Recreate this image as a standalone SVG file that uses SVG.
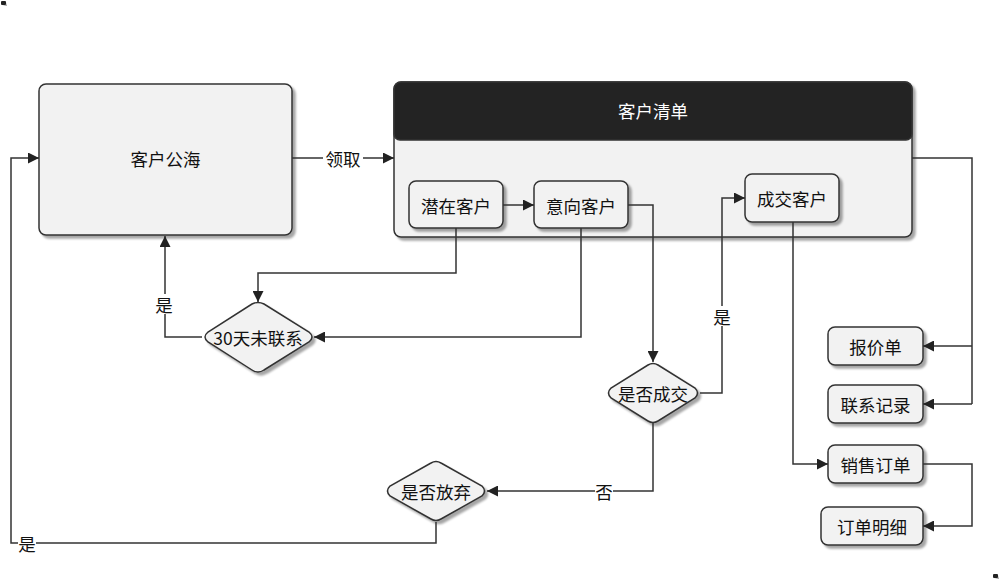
<svg xmlns="http://www.w3.org/2000/svg" width="1002" height="581" viewBox="0 0 1002 581">
<defs>
<filter id="sh" x="-10%" y="-10%" width="130%" height="130%">
<feDropShadow dx="3" dy="3" stdDeviation="0.8" flood-color="#000" flood-opacity="0.35"/>
</filter>
<marker id="ah" viewBox="0 0 10 10" refX="10" refY="5" markerWidth="11" markerHeight="11" markerUnits="userSpaceOnUse" orient="auto">
<path d="M0,0 L10,5 L0,10 z" fill="#222"/>
</marker>
</defs>
<style>
.box{fill:#f2f2f2;stroke:#333;stroke-width:1.5;filter:url(#sh)}
.t{font-family:"Noto Sans CJK SC","Liberation Sans",sans-serif;font-size:17.5px;fill:#111;text-anchor:middle;dominant-baseline:central}
.w{fill:#fff}
.c{fill:none;stroke:#333;stroke-width:1.5}
.a{marker-end:url(#ah)}
.lb{fill:#fff}
</style>
<rect width="1002" height="581" fill="#fff"/>

<g id="corner-tl"><rect x="1" y="1" width="5" height="4" rx="1" fill="#222" filter="url(#sh)"/></g>
<g id="corner-br"><rect x="993" y="574" width="5" height="4" rx="1" fill="#222" filter="url(#sh)"/></g>

<g id="gonghai">
<rect class="box" x="39" y="84" width="253" height="151" rx="7"/>
<text class="t" x="165.5" y="158">客户公海</text>
</g>

<g id="qingdan">
<rect class="box" x="394" y="82" width="518" height="155" rx="7"/>
<path d="M394,134 V89 a7,7 0 0 1 7,-7 H905 a7,7 0 0 1 7,7 V134 a6,6 0 0 1 -6,6 H400 a6,6 0 0 1 -6,-6 z" fill="#232323" stroke="#333" stroke-width="1.5"/>
<text class="t w" x="653" y="110">客户清单</text>
</g>

<g id="qianzai">
<rect class="box" x="409" y="181" width="94" height="47" rx="7"/>
<text class="t" x="456" y="205">潜在客户</text>
</g>
<g id="yixiang">
<rect class="box" x="534" y="181" width="94" height="47" rx="7"/>
<text class="t" x="581" y="205">意向客户</text>
</g>
<g id="chengjiao">
<rect class="box" x="745" y="174" width="94" height="48" rx="7"/>
<text class="t" x="792" y="198">成交客户</text>
</g>

<g id="d30">
<path class="box" d="M252,304 Q258,301 264,304 L309,332 Q315,337 309,342 L264,370 Q258,374 252,370 L208,342 Q202,337 208,332 z"/>
<text class="t" x="258" y="337">30天未联系</text>
</g>
<g id="dchengjiao">
<path class="box" d="M648,365 Q653,362 658,365 L695,388 Q700,393 695,398 L658,421 Q653,424 648,421 L611,398 Q606,393 611,388 z"/>
<text class="t" x="653" y="393">是否成交</text>
</g>
<g id="dfangqi">
<path class="box" d="M431,463 Q436,460 441,463 L482,486 Q487,491 482,496 L441,519 Q436,522 431,519 L390,496 Q385,491 390,486 z"/>
<text class="t" x="436" y="491">是否放弃</text>
</g>

<g id="baojia">
<rect class="box" x="828" y="327" width="95" height="38" rx="7"/>
<text class="t" x="875.5" y="346">报价单</text>
</g>
<g id="lianxi">
<rect class="box" x="828" y="385" width="95" height="38" rx="7"/>
<text class="t" x="875.5" y="404">联系记录</text>
</g>
<g id="xiaoshou">
<rect class="box" x="828" y="445" width="95" height="38" rx="7"/>
<text class="t" x="875.5" y="464">销售订单</text>
</g>
<g id="mingxi">
<rect class="box" x="821" y="507" width="102" height="38" rx="7"/>
<text class="t" x="872" y="526">订单明细</text>
</g>

<g id="connectors">
<path class="c a" d="M292,158 H394"/>
<rect class="lb" x="323" y="148" width="40" height="20"/>
<text class="t" x="343" y="158">领取</text>

<path class="c a" d="M503,205 H534"/>
<path class="c a" d="M628,205 H653 V362"/>
<path class="c a" d="M700,393 H722 V198 H745"/>
<rect class="lb" x="713" y="306" width="18" height="20"/>
<text class="t" x="722" y="316">是</text>

<path class="c a" d="M653,423 V491 H487"/>
<rect class="lb" x="595" y="481" width="18" height="20"/>
<text class="t" x="604" y="491">否</text>

<path class="c a" d="M436,522 V543 H11 V158 H39"/>
<rect class="lb" x="18" y="533" width="18" height="20"/>
<text class="t" x="27" y="543">是</text>

<path class="c a" d="M456,228 V273 H258 V302"/>
<path class="c a" d="M581,228 V337 H314"/>
<path class="c a" d="M202,337 H165 V236"/>
<rect class="lb" x="155" y="294" width="18" height="20"/>
<text class="t" x="164" y="304">是</text>

<path class="c" d="M912,158 H972 V404"/>
<path class="c a" d="M972,346 H923"/>
<path class="c a" d="M972,404 H923"/>
<path class="c a" d="M793,222 V464 H828"/>
<path class="c a" d="M923,464 H972 V526 H923"/>
</g>
</svg>
